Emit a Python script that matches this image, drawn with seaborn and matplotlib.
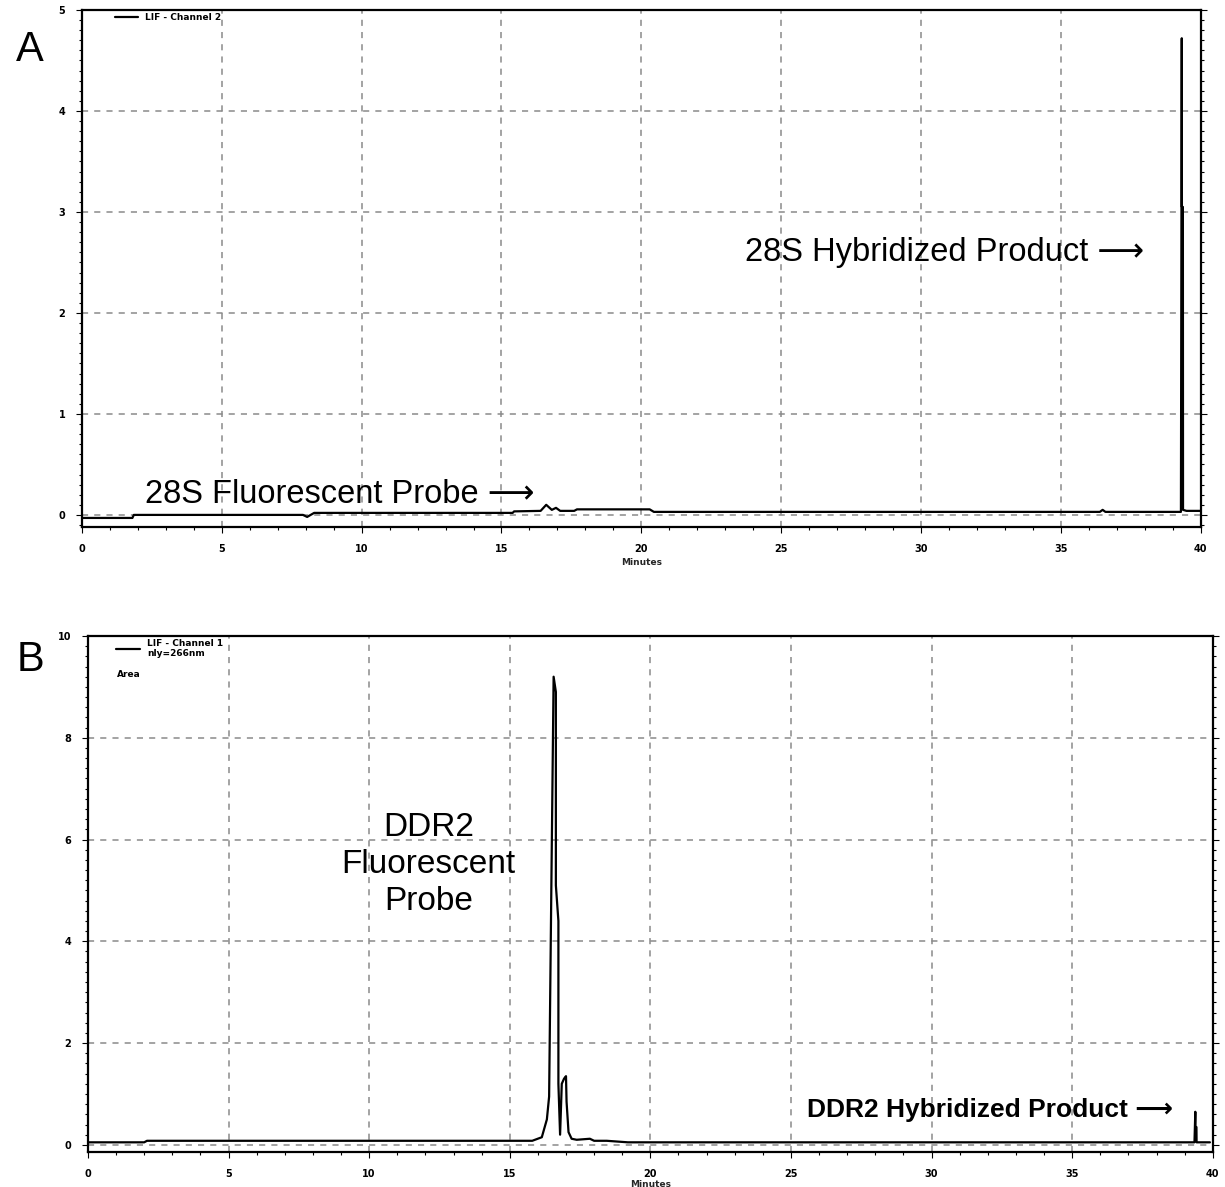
import numpy as np
import pandas as pd
import matplotlib
matplotlib.use("Agg")
import matplotlib.pyplot as plt
from matplotlib import font_manager
from matplotlib.ticker import MultipleLocator
import seaborn as sns

# ============================================================
# DATA
# ============================================================
time_a = [0, 1.8, 1.85, 7.9, 8.05, 8.3, 15.4, 15.45, 16.4, 16.6, 16.8,
          16.95, 17.1, 17.6, 17.7, 20.3, 20.45, 36.4, 36.5, 36.6, 39.3,
          39.33, 39.335, 39.37, 39.375, 39.5, 40]
signal_a = [-0.03, -0.03, 0.0, 0.0, -0.02, 0.02, 0.02, 0.035, 0.04, 0.1, 0.05,
            0.07, 0.04, 0.04, 0.055, 0.055, 0.03, 0.03, 0.05, 0.03, 0.03,
            4.72, 3.05, 3.05, 0.05, 0.04, 0.04]

time_b = [0, 2.0, 2.1, 15.8, 16.14, 16.32, 16.4, 16.48, 16.56, 16.64, 16.64,
          16.73, 16.73, 16.79, 16.85, 16.93, 17.0, 17.02, 17.09, 17.2, 17.38,
          17.85, 18.0, 18.45, 19.2, 39.35, 39.38, 39.385, 39.42, 39.425, 39.9]
signal_b = [0.05, 0.05, 0.08, 0.08, 0.15, 0.5, 0.95, 5.1, 9.2, 8.9, 5.1,
            4.4, 1.2, 0.2, 1.2, 1.3, 1.35, 0.85, 0.25, 0.12, 0.1,
            0.12, 0.08, 0.08, 0.05, 0.05, 0.65, 0.35, 0.35, 0.05, 0.05]

label_a = "LIF - Channel 2"
label_b = "LIF - Channel 1\nnly=266nm"

df_a = pd.DataFrame({"Minutes": time_a, "signal": signal_a})
df_b = pd.DataFrame({"Minutes": time_b, "signal": signal_b})

# ============================================================
# STYLE
# ============================================================
sns.set_style("ticks")
plt.rcParams["font.family"] = ["Liberation Sans", "DejaVu Sans"]
plt.rcParams["text.color"] = "black"
big_font = ["Liberation Sans", "DejaVu Sans"]
arrow = "\u27f6"

fig = plt.figure(figsize=(12.25, 11.87), dpi=100)
ax_a = fig.add_axes([0.067, 0.556, 0.913, 0.4356])
ax_b = fig.add_axes([0.0718, 0.0295, 0.9182, 0.4347])


def style_axis(ax, ymax, ymajor, yminor, ybottom):
    ax.set_xlim(0, 40)
    ax.set_ylim(ybottom, ymax)
    ax.xaxis.set_major_locator(MultipleLocator(5))
    ax.xaxis.set_minor_locator(MultipleLocator(1))
    ax.yaxis.set_major_locator(MultipleLocator(ymajor))
    ax.yaxis.set_minor_locator(MultipleLocator(yminor))
    ax.grid(True, which="major", color="#8a8a8a", linestyle=(0, (4, 4)), linewidth=1.1)
    ax.tick_params(which="both", direction="out", left=True, right=True, bottom=True,
                   top=False, labelsize=7, width=0.8, colors="black", labelcolor="black")
    ax.tick_params(which="major", length=4, pad=8)
    ax.tick_params(which="minor", length=2.5)
    for lab in ax.get_xticklabels() + ax.get_yticklabels():
        lab.set_fontweight("bold")
        lab.set_family("DejaVu Sans")
    for sp in ax.spines.values():
        sp.set_visible(True)
        sp.set_linewidth(1.6)
        sp.set_color("black")
    ax.set_ylabel("")


# ============================================================
# PANEL A
# ============================================================
sns.lineplot(data=df_a, x="Minutes", y="signal", ax=ax_a, color="black", linewidth=1.6,
             estimator=None, sort=False, label=label_a)
style_axis(ax_a, 5, 1, 0.1, -0.12)
ax_a.set_xlabel("Minutes", fontsize=6.5, fontweight="bold", family="DejaVu Sans", labelpad=3)
ax_a.legend(loc="upper left", bbox_to_anchor=(0.022, 1.01), frameon=False, handlelength=2.6,
            prop={"weight": "bold", "family": "DejaVu Sans", "size": 6.5})

ax_a.text(38.0, 2.6, "28S Hybridized Product " + arrow, ha="right", va="center",
          fontsize=23.5, family=big_font)
ax_a.text(2.25, 0.2, "28S Fluorescent Probe " + arrow, ha="left", va="center",
          fontsize=23.5, family=big_font)

# ============================================================
# PANEL B
# ============================================================
sns.lineplot(data=df_b, x="Minutes", y="signal", ax=ax_b, color="black", linewidth=1.6,
             estimator=None, sort=False, label=label_b)
style_axis(ax_b, 10, 2, 0.2, -0.14)
ax_b.set_xlabel("Minutes", fontsize=6.5, fontweight="bold", family="DejaVu Sans", labelpad=1)
ax_b.legend(loc="upper left", bbox_to_anchor=(0.018, 1.01), frameon=False, handlelength=2.6,
            prop={"weight": "bold", "family": "DejaVu Sans", "size": 6.5})
ax_b.text(0.026, 0.925, "Area", transform=ax_b.transAxes, fontsize=6.5,
          fontweight="bold", family="DejaVu Sans", va="center")

ax_b.text(12.1, 5.5, "DDR2\nFluorescent\nProbe", ha="center", va="center",
          fontsize=24, linespacing=1.25, family=big_font)
ax_b.text(38.57, 0.69, "DDR2 Hybridized Product " + arrow, ha="right", va="center",
          fontsize=19, fontweight="bold", family=big_font)

# panel letters
fig.text(0.0245, 0.958, "A", fontsize=30, ha="center", va="center")
fig.text(0.0245, 0.444, "B", fontsize=30, ha="center", va="center")

fig.savefig("out.png", dpi=100)
